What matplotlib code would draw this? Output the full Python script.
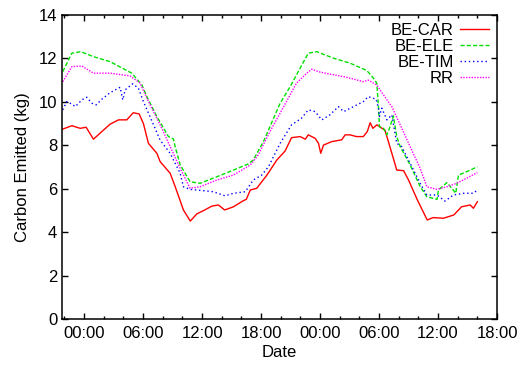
import matplotlib
matplotlib.use('Agg')
import matplotlib.pyplot as plt
from matplotlib.ticker import MultipleLocator

plt.rcParams['font.family'] = ['Liberation Sans', 'DejaVu Sans']
plt.rcParams['font.size'] = 12

# hours since midnight of day 1
car_hours = [-2.2, -1.25, -0.4, 0.2, 0.95, 1.8, 2.64, 3.5, 4.34, 5.0, 5.6, 6.03, 6.54, 7.4, 7.73,
             8.75, 9.26, 10.1, 10.8, 11.46, 12.14, 13.0, 13.66, 14.3, 15.2, 16.2, 16.5, 16.9, 17.56,
             18.6, 19.6, 20.45, 21.1, 21.97, 22.5, 22.8, 23.5, 23.84, 24.07, 24.35, 25.2, 26.2,
             26.55, 27.06, 27.7, 28.4, 28.8, 29.1, 29.37, 29.78, 30.3, 30.6, 31.1, 31.8, 32.5,
             33.0, 33.9, 34.9, 35.5, 36.55, 37.6, 38.4, 39.27, 39.6, 40.0]
car_kg = [8.74, 8.9, 8.78, 8.83, 8.28, 8.63, 8.97, 9.17, 9.17, 9.5, 9.44, 9.0, 8.09, 7.63, 7.25,
          6.71, 6.1, 5.02, 4.51, 4.84, 4.99, 5.2, 5.25, 5.02, 5.17, 5.45, 5.51, 5.94, 6.02,
          6.63, 7.32, 7.74, 8.35, 8.4, 8.28, 8.48, 8.32, 8.09, 7.63, 8.01, 8.17, 8.25,
          8.48, 8.48, 8.4, 8.4, 8.63, 9.04, 8.78, 8.94, 8.78, 8.7, 7.94, 6.86, 6.83,
          6.4, 5.48, 4.56, 4.67, 4.64, 4.79, 5.17, 5.25, 5.1, 5.4]

ele_hours = [-2.17, -1.25, -0.34, 0.95, 2.64, 4.85, 5.87, 6.38, 7.4, 8.58, 9.08, 9.26, 9.77,
             10.78, 11.8, 13.5, 15.2, 16.7, 17.2, 18.24, 19.94, 20.96, 21.97, 22.8, 23.66, 25.36,
             27.06, 28.76, 29.43, 29.77, 29.94, 30.04, 30.45, 30.79, 31.06, 31.46, 31.8, 32.15,
             33.16, 34.18, 34.86, 35.9, 36.04, 36.9, 37.4, 37.8, 38.08, 38.9, 40.0]
ele_kg = [11.39, 12.24, 12.31, 12.08, 11.85, 11.32, 10.78, 10.24, 9.32, 8.4, 8.29, 7.94, 7.1,
          6.32, 6.25, 6.55, 6.86, 7.14, 7.32, 8.17, 9.94, 10.7, 11.55, 12.24, 12.31, 12.01,
          11.78, 11.44, 11.09, 10.86, 9.78, 8.86, 8.78, 8.48, 8.78, 9.35, 8.4, 7.94,
          7.1, 6.1, 5.63, 5.51, 5.94, 6.28, 6.02, 5.79, 6.63, 6.78, 7.01]

tim_hours = [-2.17, -1.77, -1.26, -0.9, -0.23, 0.27, 0.78, 1.22, 1.8, 2.64, 3.66, 3.93, 4.17,
             4.94, 5.52, 6.03, 6.7, 7.73, 8.75, 9.77, 10.1, 10.78, 12.14, 13.15, 14.34, 15.2,
             16.4, 17.2, 18.07, 18.75, 19.94, 21.1, 22.1, 22.8, 23.5, 24.18, 25.0, 25.87, 26.4,
             27.4, 28.4, 28.9, 29.7, 29.94, 30.04, 30.28, 30.8, 31.3, 31.8, 32.3, 33.16, 34.18,
             34.86, 35.9, 36.7, 37.57, 38.6, 39.6, 40.0]
tim_kg = [9.63, 10.01, 9.9, 9.78, 10.09, 10.21, 9.94, 9.86, 10.12, 10.42, 10.67, 10.09, 10.55,
          10.83, 10.63, 10.01, 9.32, 8.24, 7.63, 6.71, 6.09, 5.97, 5.91, 5.86, 5.67, 5.79,
          5.86, 6.4, 6.63, 7.01, 8.09, 8.94, 9.24, 9.63, 9.55, 9.17, 9.4, 9.78, 9.55,
          9.78, 10.01, 10.24, 10.12, 9.71, 9.32, 9.71, 9.17, 9.4, 8.09, 7.94, 7.17, 6.25,
          5.71, 5.71, 5.43, 5.71, 5.79, 5.79, 5.94]

rr_hours = [-2.17, -1.25, -0.23, 0.95, 2.64, 4.68, 5.7, 6.38, 7.73, 8.75, 9.77, 10.78, 11.8,
            13.5, 15.2, 16.9, 17.7, 18.9, 20.3, 21.6, 22.65, 23.15, 23.84, 24.5, 26.7, 28.4,
            28.9, 29.76, 30.45, 31.3, 32.15, 33.16, 34.18, 34.86, 35.9, 36.9, 37.9, 38.9, 40.0]
rr_kg = [10.93, 11.62, 11.65, 11.32, 11.32, 11.19, 10.86, 10.17, 8.94, 7.94, 6.94, 6.02, 6.09,
         6.4, 6.63, 7.09, 7.55, 8.63, 9.78, 10.86, 11.32, 11.5, 11.39, 11.32, 11.13, 10.93,
         11.0, 10.78, 10.32, 9.78, 8.94, 7.94, 6.94, 6.09, 5.97, 6.09, 6.25, 6.48, 6.74]

tick_hours = [0, 6, 12, 18, 24, 30, 36, 42]
tick_labels = ['00:00', '06:00', '12:00', '18:00', '00:00', '06:00', '12:00', '18:00']

fig = plt.figure(figsize=(5.18, 3.65), dpi=100)
ax = fig.add_axes([0.1197, 0.126, 0.8398, 0.833])

ax.plot(car_hours, car_kg, color='red', lw=1.0, label='BE-CAR')
ax.plot(ele_hours, ele_kg, color='#00e000', lw=1.0, dashes=(3, 1.5), label='BE-ELE')
ax.plot(tim_hours, tim_kg, color='blue', lw=1.0, dashes=(1, 2), label='BE-TIM')
ax.plot(rr_hours, rr_kg, color='#ff00ff', lw=1.0, dashes=(1, 1), label='RR')

ax.set_xlim(-2.25, 42)
ax.set_ylim(0, 14)
ax.set_xticks(tick_hours)
ax.set_xticklabels(tick_labels)
ax.xaxis.set_minor_locator(MultipleLocator(2))
ax.yaxis.set_major_locator(MultipleLocator(2))
ax.tick_params(which='both', direction='in', top=True, right=True, width=1.0)
ax.tick_params(which='major', length=4)
ax.tick_params(which='minor', length=2)
ax.tick_params(axis='x', pad=5)
for s in ax.spines.values():
    s.set_linewidth(1.1)

ax.set_xlabel('Date', labelpad=3)
ax.set_ylabel('Carbon Emitted (kg)', labelpad=6)

# markerfirst=False puts the sample on the right and right-aligns the rows
ax.legend(loc='upper right', frameon=False, markerfirst=False,
          handlelength=1.75, handletextpad=0.35, labelspacing=0.05,
          borderaxespad=0.3, borderpad=0.2)

fig.savefig('out.png', dpi=100)
